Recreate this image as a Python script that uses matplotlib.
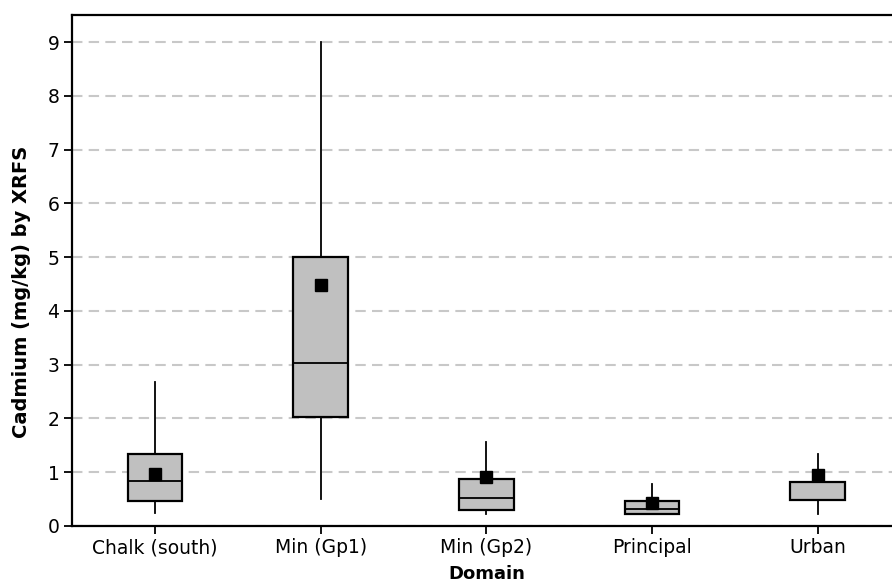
import matplotlib
matplotlib.use("Agg")
import matplotlib.pyplot as plt

categories = ["Chalk (south)", "Min (Gp1)", "Min (Gp2)", "Principal", "Urban"]
whisker_low = [0.24, 0.51, 0.22, 0.23, 0.22]
q1 = [0.47, 2.02, 0.29, 0.23, 0.49]
median = [0.845, 3.03, 0.52, 0.31, 0.49]
q3 = [1.34, 5.0, 0.88, 0.46, 0.82]
whisker_high = [2.67, 9.0, 1.57, 0.79, 1.34]
mean = [0.97, 4.49, 0.91, 0.43, 0.94]

plt.rcParams['font.family'] = ['DejaVu Sans']

fig = plt.figure(figsize=(8.92, 5.85), dpi=100)
ax = fig.add_axes([0.0807, 0.1009, 0.929, 0.8729])

stats = []
for i, c in enumerate(categories):
    stats.append(dict(label=c, whislo=whisker_low[i], q1=q1[i], med=median[i],
                      q3=q3[i], whishi=whisker_high[i], mean=mean[i], fliers=[]))

positions = list(range(len(categories)))
ax.bxp(stats, positions=positions, widths=0.33, patch_artist=True,
       showmeans=True, showcaps=False, showfliers=False,
       boxprops=dict(facecolor="#C0C0C0", edgecolor="black", linewidth=1.6),
       medianprops=dict(color="black", linewidth=1.3),
       whiskerprops=dict(color="black", linewidth=1.3),
       meanprops=dict(marker="s", markerfacecolor="black", markeredgecolor="black", markersize=8.5),
       zorder=3)

ax.set_xlim(-0.5, 4.5)
ax.set_ylim(0, 9.5)
ax.set_yticks(range(0, 10))
ax.yaxis.grid(True, linestyle=(0, (5, 3)), color="#C8C8C8", linewidth=1.5, zorder=0)
ax.set_axisbelow(True)

for s in ["left", "bottom", "top", "right"]:
    ax.spines[s].set_linewidth(1.6)

ax.tick_params(axis="both", direction="out", length=5.5, width=1.3, labelsize=13.5,
               colors="black", pad=3.5)
ax.set_xticks(positions)
ax.set_xticklabels(categories)
ax.set_xlabel("Domain", fontsize=13, fontweight="bold")
ax.xaxis.set_label_coords(0.5, -0.076)
ax.set_ylabel("Cadmium (mg/kg) by XRFS", fontsize=14, fontweight="bold")
ax.yaxis.set_label_coords(-0.05, 0.458)

fig.savefig("out.png", dpi=100)
